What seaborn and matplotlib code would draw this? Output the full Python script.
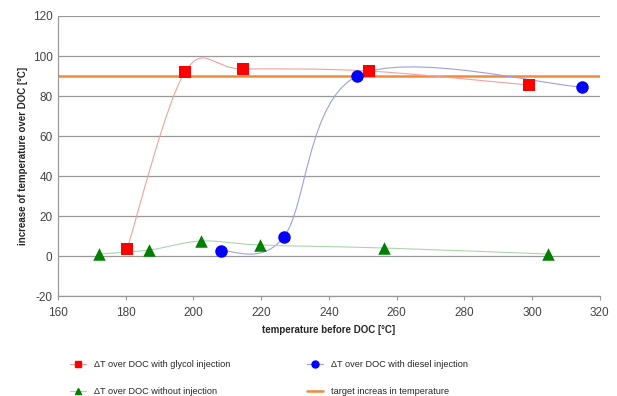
import numpy as np
import seaborn as sns
import matplotlib.pyplot as plt
from matplotlib.path import Path
from matplotlib.patches import PathPatch
from matplotlib.lines import Line2D

# data
glycol_x = [180.4, 197.5, 214.6, 251.8, 299.0]
glycol_y = [3.5, 92.0, 93.5, 92.5, 85.5]
diesel_x = [208.1, 226.7, 248.3, 314.7]
diesel_y = [2.5, 9.5, 90.0, 84.5]
none_x = [172.1, 187.0, 202.3, 219.8, 256.3, 304.6]
none_y = [1.0, 3.0, 7.5, 5.5, 4.0, 1.0]
target_y = 90

sns.set_style("white")
plt.rcParams['font.family'] = ['Liberation Sans', 'DejaVu Sans']
plt.rcParams['axes.unicode_minus'] = False


def smooth_path(xs, ys):
	'''Excel-like smoothed line: cubic Bezier with Catmull-Rom control points'''
	p = np.column_stack([xs, ys])
	verts = [p[0]]
	codes = [Path.MOVETO]
	n = len(p)
	for i in range(n - 1):
		p0 = p[i - 1] if i > 0 else p[i]
		p3 = p[i + 2] if i + 2 < n else p[i + 1]
		c1 = p[i] + (p[i + 1] - p0) / 6.0
		c2 = p[i + 1] - (p3 - p[i]) / 6.0
		verts += [c1, c2, p[i + 1]]
		codes += [Path.CURVE4] * 3
	return Path(verts, codes)


fig = plt.figure(figsize=(6.17, 3.96), dpi=100)
ax = fig.add_axes([0.094, 0.2525, 0.878, 0.7071])

series = [
	(glycol_x, glycol_y, '#ff0000', '#f4a0a0', 's', 8, 'ΔT over DOC with glycol injection'),
	(diesel_x, diesel_y, '#0000ff', '#9aa0e8', 'o', 9, 'ΔT over DOC with diesel injection'),
	(none_x, none_y, '#008000', '#a8d8a8', '^', 9, 'ΔT over DOC without injection'),
]

ax.axhline(target_y, color='#f08a3c', lw=1.8, zorder=2)

for xs, ys, c, lc, m, s, lab in series:
	ax.add_patch(PathPatch(smooth_path(xs, ys), fill=False, edgecolor=lc, lw=0.8, zorder=3))
	sns.scatterplot(x=xs, y=ys, marker=m, color=c, s=s ** 2, edgecolor=c, linewidth=0, ax=ax, zorder=4)

ax.set_xlim(160, 320)
ax.set_ylim(-20, 120)
ax.set_xticks(range(160, 321, 20))
ax.set_yticks(range(-20, 121, 20))
ax.grid(axis='y', color='#999999', lw=0.9)
ax.tick_params(axis='both', labelsize=8.5, colors='#444444', length=0, pad=4)
ax.tick_params(axis='x', length=3, color='#999999', direction='out', bottom=True, pad=5)
for side in ['top', 'right']:
	ax.spines[side].set_visible(False)
for side in ['left', 'bottom']:
	ax.spines[side].set_color('#999999')
	ax.spines[side].set_linewidth(0.9)

ax.set_xlabel('temperature before DOC [°C]', fontsize=7, fontweight='bold', labelpad=4)
ax.set_ylabel('increase of temperature over DOC [°C]', fontsize=7, fontweight='bold', labelpad=3)

h_glycol = Line2D([], [], color='#f4a0a0', lw=0.8, marker='s', ms=5, mfc='#ff0000', mec='#ff0000')
h_diesel = Line2D([], [], color='#9aa0e8', lw=0.8, marker='o', ms=5, mfc='#0000ff', mec='#0000ff')
h_none = Line2D([], [], color='#a8d8a8', lw=0.8, marker='^', ms=5, mfc='#008000', mec='#008000')
h_target = Line2D([], [], color='#f08a3c', lw=1.8)
# column-first ordering so rows read glycol/diesel, none/target
handles = [h_glycol, h_none, h_diesel, h_target]
labels = [series[0][6], series[2][6], series[1][6], 'target increas in temperature']
fig.legend(handles, labels, loc='upper left', bbox_to_anchor=(0.113, 0.09), ncol=2,
	frameon=False, fontsize=6.6, handlelength=1.8, columnspacing=8.4, labelspacing=1.9,
	borderpad=0, borderaxespad=0)

plt.savefig('out.png', dpi=100)
